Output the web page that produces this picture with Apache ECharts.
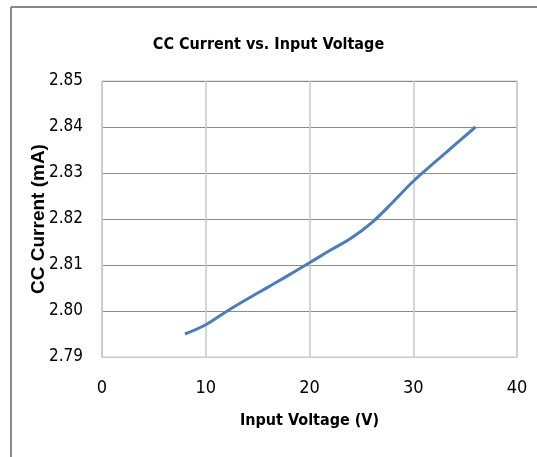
<!DOCTYPE html>
<html>
<head>
<meta charset="utf-8">
<script src="https://cdn.jsdelivr.net/npm/echarts@6/dist/echarts.min.js"></script>
<style>
  html, body { margin: 0; padding: 0; background: #fff; }
  #main { width: 537px; height: 457px; }
</style>
</head>
<body>
<div id="main"></div>
<script>
// input voltage (V) and CC current (mA)
var voltage = [8, 10, 12, 14, 16, 18, 20, 22, 24, 26, 28, 30, 32, 34, 36];
var current = [2.795, 2.797, 2.7999, 2.8026, 2.8052, 2.8078, 2.8105, 2.8132, 2.8158, 2.8192, 2.8236, 2.8282, 2.8322, 2.8361, 2.8400];

var narrow = '"DejaVu Sans Condensed", "Liberation Sans Narrow", "Arial Narrow", sans-serif';

var myChart = echarts.init(document.getElementById('main'));

var option = {
    backgroundColor: '#fff',
    animation: false,
    title: {
        text: 'CC Current vs. Input Voltage',
        left: 'center',
        top: 32,
        textStyle: { fontFamily: narrow, fontWeight: 'bold', fontSize: 16, color: '#000' }
    },
    graphic: [
        { type: 'line', shape: { x1: 11, y1: 7, x2: 537, y2: 7 }, style: { stroke: '#888', lineWidth: 2 } },
        { type: 'line', shape: { x1: 11, y1: 7, x2: 11, y2: 457 }, style: { stroke: '#888', lineWidth: 2 } }
    ],
    grid: { left: 102, top: 81, width: 415, height: 276, show: true, borderColor: '#c8c8c8', borderWidth: 1 },
    xAxis: {
        type: 'value',
        min: 0, max: 40, interval: 10,
        name: 'Input Voltage (V)',
        nameLocation: 'middle',
        nameGap: 56,
        nameMoveOverlap: false,
        nameTextStyle: { fontFamily: narrow, fontWeight: 'bold', fontSize: 16, color: '#000' },
        axisLine: { lineStyle: { color: '#c8c8c8' } },
        axisTick: { show: false },
        axisLabel: { fontFamily: narrow, fontSize: 18, color: '#000', margin: 22 },
        splitLine: { show: true, lineStyle: { color: '#c8c8c8', width: 1.5 } }
    },
    yAxis: {
        type: 'value',
        min: 2.79, max: 2.85, interval: 0.01,
        name: 'CC Current (mA)',
        nameLocation: 'middle',
        nameGap: 54,
        nameMoveOverlap: false,
        nameTextStyle: { fontFamily: '"Liberation Sans", Arial, sans-serif', fontWeight: 'bold', fontSize: 19, color: '#000' },
        axisLine: { show: true, lineStyle: { color: '#c8c8c8' } },
        axisTick: { show: false },
        axisLabel: {
            fontFamily: narrow, fontSize: 17, color: '#000', margin: 19,
            formatter: function (v) { return v.toFixed(2); }
        },
        splitLine: { show: true, lineStyle: { color: '#8c8c8c', width: 1 } }
    },
    series: [
        {
            type: 'line',
            data: voltage.map(function (v, i) { return [v, current[i]]; }),
            smooth: 0.4,
            showSymbol: false,
            lineStyle: { color: '#4a7ebb', width: 3 }
        }
    ]
};

myChart.setOption(option);
</script>
</body>
</html>
